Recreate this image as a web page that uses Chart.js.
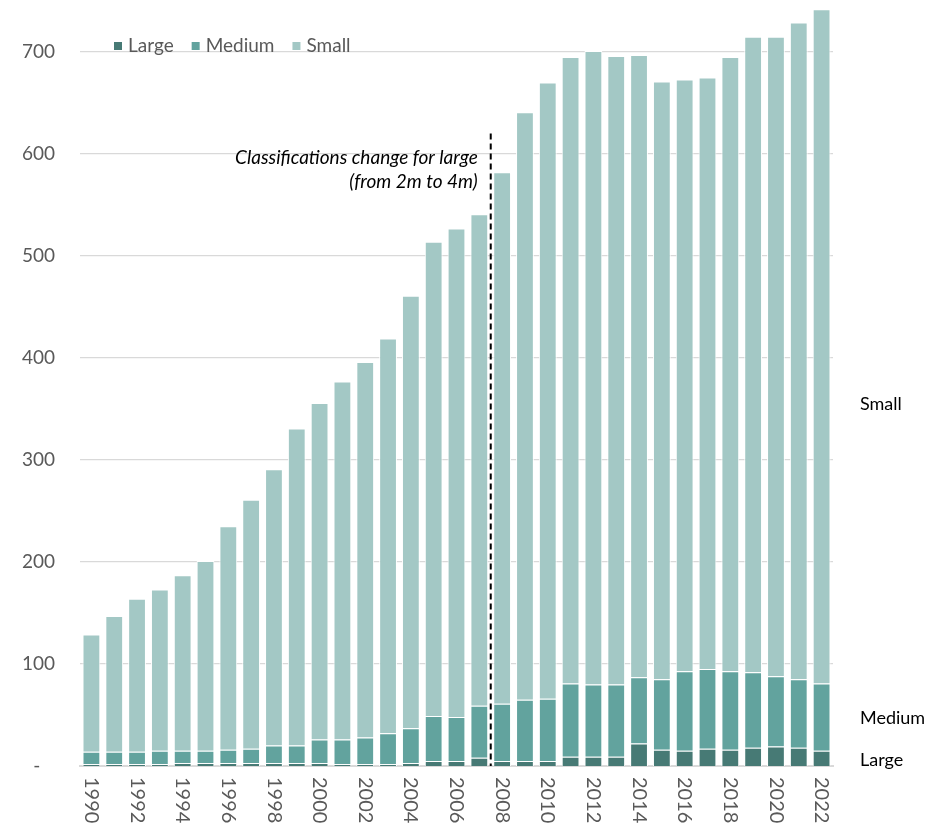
<!DOCTYPE html>
<html>
<head>
<meta charset="utf-8">
<script src="https://cdn.jsdelivr.net/npm/chart.js@4.4.1/dist/chart.umd.min.js"></script>
<style>
  html, body { margin: 0; padding: 0; background: #fff; }
  #wrap { width: 945px; height: 824px; position: relative; }
</style>
</head>
<body>
<div id="wrap"><canvas id="chart"></canvas></div>
<script>
const years = ['1990','1991','1992','1993','1994','1995','1996','1997','1998','1999',
  '2000','2001','2002','2003','2004','2005','2006','2007','2008','2009',
  '2010','2011','2012','2013','2014','2015','2016','2017','2018','2019',
  '2020','2021','2022'];

const large = [2, 2, 2, 2, 3, 3, 3, 3, 3, 3,
  3, 2, 2, 2, 3, 5, 5, 8, 5, 5,
  5, 9, 9, 9, 22, 16, 15, 17, 16, 18,
  19, 18, 15];

const medium = [12, 12, 12, 13, 12, 12, 13, 14, 17, 17,
  23, 24, 26, 30, 34, 44, 43, 51, 56, 60,
  61, 72, 71, 71, 65, 69, 78, 78, 77, 74,
  69, 67, 66];

const small = [115, 133, 150, 158, 172, 186, 219, 244, 271, 311,
  330, 351, 368, 387, 424, 465, 479, 482, 521, 576,
  604, 614, 621, 616, 610, 586, 580, 580, 602, 623,
  627, 644, 661];

const yTicks = [0, 100, 200, 300, 400, 500, 600, 700];

const seriesNames = ['Large', 'Medium', 'Small'];
const colors = ['#477a75', '#62a39e', '#a3c8c5'];

// where the break in the series is (between 2007 and 2008)
const breakAfter = '2007';
const noteLines = ['Classifications change for large', '(from 2m to 4m)'];

const grey = '#595959';
const fontFamily = 'Lato, "Noto Sans", sans-serif';

// draws the x labels (rotated clockwise), legend, note and end labels
const extras = {
  id: 'extras',
  afterDraw(chart) {
    const ctx = chart.ctx;
    const x = chart.scales.x;
    const y = chart.scales.y;
    const area = chart.chartArea;

    // x labels, every second year
    ctx.save();
    ctx.fillStyle = grey;
    ctx.font = '20px ' + fontFamily;
    ctx.textAlign = 'left';
    ctx.textBaseline = 'middle';
    years.forEach((yr, i) => {
      if (i % 2 !== 0) return;
      ctx.save();
      ctx.translate(x.getPixelForValue(i), area.bottom + 11);
      ctx.rotate(Math.PI / 2);
      ctx.fillText(yr, 0, 0);
      ctx.restore();
    });
    ctx.restore();

    // legend
    ctx.save();
    ctx.font = '19px ' + fontFamily;
    ctx.textBaseline = 'alphabetic';
    let lx = 114;
    chart.data.datasets.forEach(ds => {
      ctx.fillStyle = ds.backgroundColor;
      ctx.fillRect(lx, 42, 8, 8);
      ctx.fillStyle = grey;
      ctx.fillText(ds.label, lx + 14, 52);
      lx += 14 + ctx.measureText(ds.label).width + 18;
    });
    ctx.restore();

    // dashed break line
    const i = years.indexOf(breakAfter);
    const bx = (x.getPixelForValue(i) + x.getPixelForValue(i + 1)) / 2;
    ctx.save();
    ctx.strokeStyle = '#000';
    ctx.lineWidth = 2;
    ctx.setLineDash([6, 4]);
    ctx.beginPath();
    ctx.moveTo(bx, y.getPixelForValue(620));
    ctx.lineTo(bx, area.bottom);
    ctx.stroke();
    ctx.restore();

    // note
    ctx.save();
    ctx.fillStyle = '#000';
    ctx.font = 'italic 19px ' + fontFamily;
    ctx.textAlign = 'right';
    ctx.textBaseline = 'alphabetic';
    ctx.fillText(noteLines[0], bx - 13, 164);
    ctx.fillText(noteLines[1], bx - 13, 188);
    ctx.restore();

    // end labels
    ctx.save();
    ctx.fillStyle = '#000';
    ctx.font = '18px ' + fontFamily;
    ctx.textAlign = 'left';
    ctx.textBaseline = 'middle';
    ctx.fillText('Small', 860, y.getPixelForValue(355));
    ctx.fillText('Medium', 860, y.getPixelForValue(47));
    ctx.fillText('Large', 860, y.getPixelForValue(6));
    ctx.restore();
  }
};

const ctx = document.getElementById('chart').getContext('2d');

const chart = new Chart(ctx, {
  type: 'bar',
  data: {
    labels: years,
    datasets: [large, medium, small].map((d, k) => ({
      label: seriesNames[k],
      data: d,
      backgroundColor: colors[k],
      borderColor: '#ffffff',
      borderWidth: 1,
      barPercentage: 0.78,
      categoryPercentage: 1
    }))
  },
  plugins: [extras],
  options: {
    responsive: true,
    maintainAspectRatio: false,
    animation: false,
    layout: { padding: { top: 1, right: 112, bottom: 58, left: 0 } },
    plugins: {
      legend: { display: false },
      tooltip: { enabled: false }
    },
    scales: {
      x: {
        stacked: true,
        grid: { display: false, drawTicks: false },
        border: { display: true, color: '#d9d9d9', width: 2 },
        ticks: { display: false }
      },
      y: {
        stacked: true,
        min: 0,
        max: 750,
        afterBuildTicks: s => { s.ticks = yTicks.map(v => ({ value: v })); },
        afterFit: s => {
          s.width = 80;
          // the tick padding would otherwise push the plot down
          s.paddingTop = 0;
          s.paddingBottom = 0;
        },
        grid: {
          color: '#d9d9d9',
          lineWidth: c => (c.tick && c.tick.value === 0 ? 0 : 1.3),
          drawTicks: false
        },
        border: { display: false },
        ticks: {
          padding: 25,
          color: grey,
          font: { size: 19, family: fontFamily },
          callback: v => (v === 0 ? '-   ' : String(v))
        }
      }
    }
  }
});
</script>
</body>
</html>
